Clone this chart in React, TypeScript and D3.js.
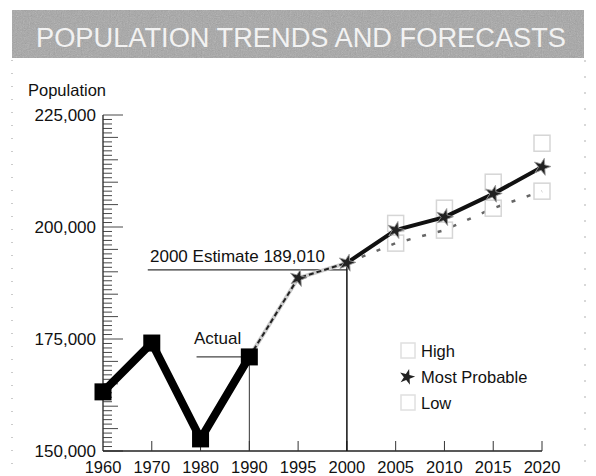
import React from "react";
import * as d3 from "d3";

const xLabels = ["1960", "1970", "1980", "1990", "1995", "2000", "2005", "2010", "2015", "2020"];
const yTicks = [150000, 175000, 200000, 225000];

const actualYears = ["1960", "1970", "1980", "1990"];
const actualValues = [163200, 174100, 152700, 171000];

const transitionYears = ["1990", "1995", "2000"];
const transitionValues = [171000, 188600, 192000];

const forecastYears = ["2000", "2005", "2010", "2015", "2020"];
const mostProbable = [192000, 199300, 202200, 207400, 213400];

const rangeYears = ["2005", "2010", "2015", "2020"];
const highValues = [200800, 204200, 210000, 218700];
const lowValues = [196400, 199300, 204200, 208000];

const legendItems = ["High", "Most Probable", "Low"];
const estimateLabel = "2000 Estimate 189,010";
const actualLabel = "Actual";
const titleText = "POPULATION TRENDS AND FORECASTS";
const yAxisTitle = "Population";

const W = 596;
const H = 476;
const FONT = "'Liberation Sans', Arial, Helvetica, sans-serif";

export default function App() {
  const x = d3.scalePoint<string>().domain(xLabels).range([103, 542]);
  const y = d3.scaleLinear().domain([150000, 225000]).range([451, 115]);
  const x0 = x("1960")!;
  const xEnd = x("2020")!;
  const yBase = y(150000);

  const minorTicks = d3.range(150000, 225001, 1000);
  const fmt = d3.format(",");

  const line = d3
    .line<[string, number]>()
    .x((d) => x(d[0])!)
    .y((d) => y(d[1]));

  const actualPts: [string, number][] = actualYears.map((k, i) => [k, actualValues[i]]);
  const transPts: [string, number][] = transitionYears.map((k, i) => [k, transitionValues[i]]);
  const mpPts: [string, number][] = forecastYears.map((k, i) => [k, mostProbable[i]]);
  const lowPts: [string, number][] = [["2000", mostProbable[0]], ...rangeYears.map((k, i) => [k, lowValues[i]] as [string, number])];

  const star = d3.symbol().type(d3.symbolStar).size(90)()!;
  const sq = 16;

  const x2000 = x("2000")!;
  const y2000 = y(mostProbable[0]);
  const x1990 = x("1990")!;
  const y1990 = y(actualValues[3]);

  const legX = 408;
  const legY = [351, 377, 403];

  return (
    <svg width={W} height={H} style={{ position: "absolute", left: 0, top: 0, background: "#fff" }} fontFamily={FONT}>
      <defs>
        <filter id="noise" x="0" y="0" width="100%" height="100%">
          <feTurbulence type="fractalNoise" baseFrequency="0.85" numOctaves="2" seed="3" result="t" />
          <feColorMatrix type="saturate" values="0" in="t" result="g" />
          <feComponentTransfer in="g">
            <feFuncA type="table" tableValues="0 0.45" />
          </feComponentTransfer>
        </filter>
      </defs>

      {/* page border dots */}
      <line x1={12} x2={12} y1={60} y2={H} stroke="#bbb" strokeDasharray="1,12" strokeWidth={1.5} />
      <line x1={585} x2={585} y1={60} y2={H} stroke="#ccc" strokeDasharray="2,14" strokeWidth={1.5} />

      {/* Title banner */}
      <rect x={12} y={10} width={572} height={48} fill="#a5a5a5" />
      <rect x={12} y={10} width={572} height={48} filter="url(#noise)" />
      <text x={36} y={47} fontSize={27} fill="#f2f2f2" textLength={530} lengthAdjust="spacingAndGlyphs">
        {titleText}
      </text>

      {/* Y axis */}
      <text x={28} y={96} fontSize={16.5} fill="#111">{yAxisTitle}</text>
      <line x1={x0} x2={x0} y1={y(225000)} y2={yBase} stroke="#222" strokeWidth={1.3} />
      {minorTicks.map((v) => {
        const len = v % 25000 === 0 ? 20 : v % 5000 === 0 ? 15 : 9;
        return (
          <line key={v} x1={x0} x2={x0 + len} y1={y(v)} y2={y(v)} stroke="#333" strokeWidth={0.9} />
        );
      })}
      {yTicks.map((v) => (
        <text key={v} x={96} y={y(v) + 6} fontSize={17} textAnchor="end" fill="#111">
          {fmt(v)}
        </text>
      ))}

      {/* X axis */}
      <line x1={x0} x2={xEnd} y1={yBase} y2={yBase} stroke="#222" strokeWidth={1.5} />
      {xLabels.slice(1).map((k) => (
        <line key={k} x1={x(k)} x2={x(k)} y1={yBase} y2={yBase - 10} stroke="#333" strokeWidth={1} />
      ))}
      {xLabels.map((k) => (
        <text key={k} x={x(k)} y={473} fontSize={16.5} textAnchor="middle" fill="#111">
          {k}
        </text>
      ))}

      {/* Annotations */}
      <line x1={x("1970")! - 4} x2={x2000} y1={y2000 + 7} y2={y2000 + 7} stroke="#333" strokeWidth={1.2} />
      <line x1={x2000} x2={x2000} y1={y2000} y2={yBase} stroke="#111" strokeWidth={1.5} />
      <text x={150} y={262} fontSize={17} fill="#111">{estimateLabel}</text>
      <line x1={x("1980")! - 4} x2={x1990} y1={y1990} y2={y1990} stroke="#444" strokeWidth={1.2} />
      <line x1={x1990} x2={x1990} y1={y1990} y2={yBase} stroke="#333" strokeWidth={1} />
      <text x={194} y={344} fontSize={17} fill="#111">{actualLabel}</text>

      {/* Low dashed line */}
      <path d={line(lowPts)!} fill="none" stroke="#666" strokeWidth={2.5} strokeDasharray="4,12" />

      {/* High / Low squares */}
      {rangeYears.map((k, i) => (
        <g key={k}>
          <rect x={x(k)! - sq / 2} y={y(highValues[i]) - sq / 2} width={sq} height={sq} fill="none" stroke="#d6d6d6" strokeWidth={1.5} />
          <rect x={x(k)! - sq / 2} y={y(lowValues[i]) - sq / 2} width={sq} height={sq} fill="none" stroke="#d6d6d6" strokeWidth={1.5} />
        </g>
      ))}

      {/* Transition dashed line */}
      <path d={line(transPts)!} fill="none" stroke="#ccc" strokeWidth={4} />
      <path d={line(transPts)!} fill="none" stroke="#222" strokeWidth={2} strokeDasharray="5,3" />

      {/* Most probable thick line */}
      <path d={line(mpPts)!} fill="none" stroke="#111" strokeWidth={4} />
      {[...transPts.slice(1), ...mpPts.slice(1)].map((d) => (
        <path key={d[0]} d={star} transform={`translate(${x(d[0])},${y(d[1])}) rotate(15)`} fill="#222" stroke="#999" strokeWidth={0.8} />
      ))}

      {/* Actual line */}
      <path d={line(actualPts)!} fill="none" stroke="#000" strokeWidth={8} strokeLinejoin="miter" />
      {actualPts.map((d) => (
        <rect key={d[0]} x={x(d[0])! - 8.5} y={y(d[1]) - 8.5} width={17} height={17} fill="#000" />
      ))}

      {/* Legend */}
      <rect x={legX - 7} y={legY[0] - 8} width={14} height={15} fill="none" stroke="#e0e0e0" strokeWidth={1.5} />
      <path d={d3.symbol().type(d3.symbolStar).size(75)()!} transform={`translate(${legX - 1},${legY[1]}) rotate(15)`} fill="#222" />
      <rect x={legX - 7} y={legY[2] - 8} width={14} height={15} fill="none" stroke="#e0e0e0" strokeWidth={1.5} />
      {legendItems.map((t, i) => (
        <text key={t} x={421} y={legY[i] + 6} fontSize={16.5} fill="#111">
          {t}
        </text>
      ))}
    </svg>
  );
}
